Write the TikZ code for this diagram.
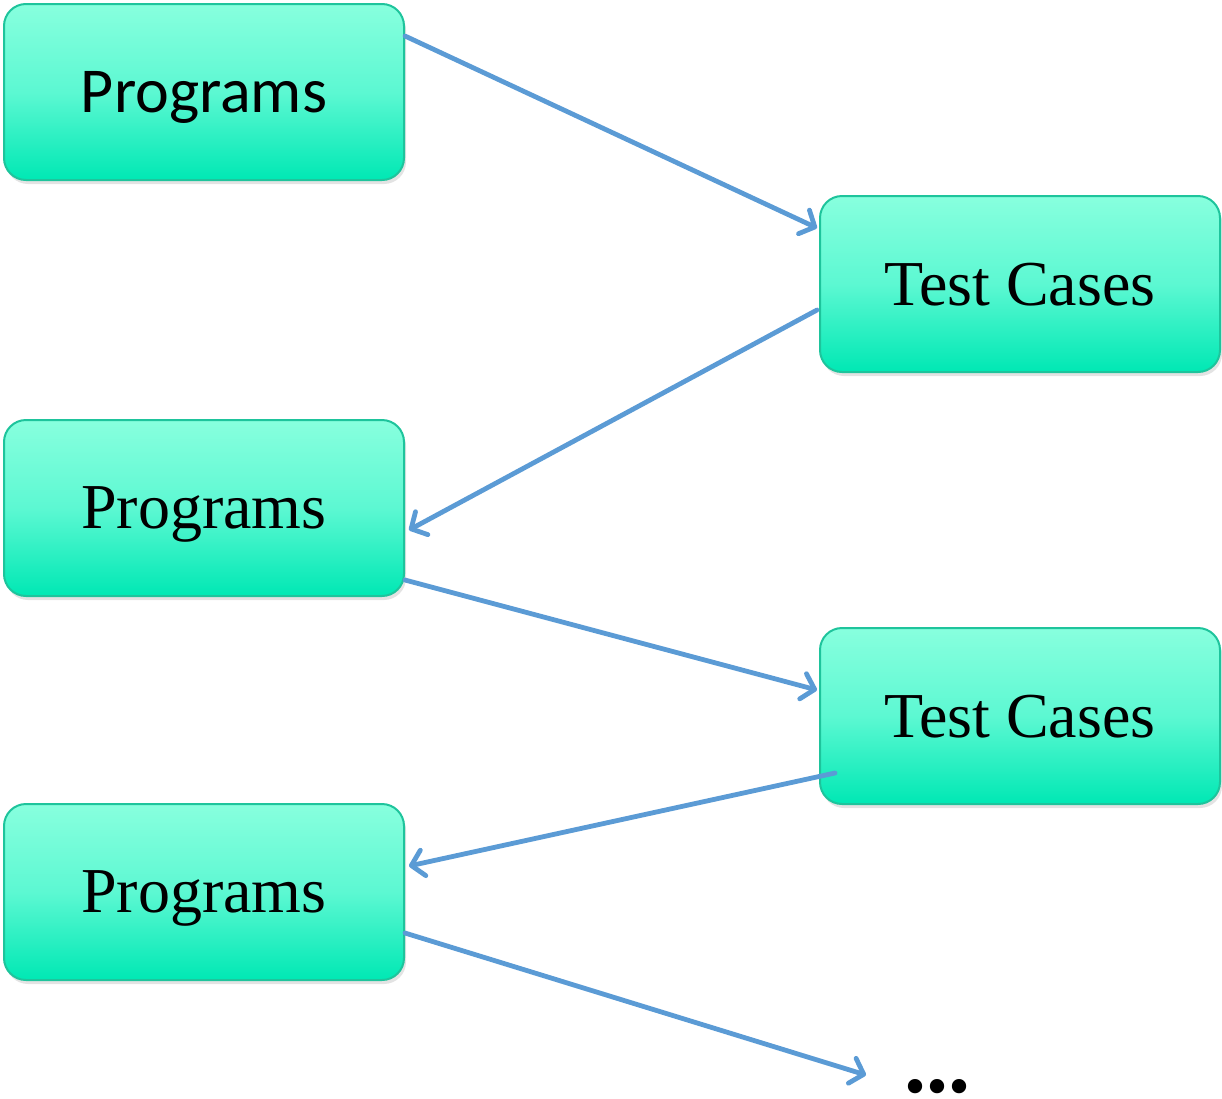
\documentclass[tikz,border=0pt]{standalone}
\usepackage{fontspec}
\setmainfont{Liberation Serif}
\newfontfamily\calibrilike{Carlito}
\usetikzlibrary{arrows.meta,shadows}
\definecolor{boxtop}{RGB}{136,255,222}
\definecolor{boxmid}{RGB}{92,248,210}
\definecolor{boxbot}{RGB}{0,232,180}
\definecolor{boxedge}{RGB}{30,196,156}
\definecolor{flow}{RGB}{91,155,213}
\begin{document}
\begin{tikzpicture}[x=1pt,y=-1pt,
  stagebox/.style={draw=boxedge, line width=2pt, rounded corners=22pt,
    top color=boxtop, bottom color=boxbot, middle color=boxmid,
    minimum width=400pt, minimum height=176pt, inner sep=0pt, text depth=0pt,
    drop shadow={opacity=0.22, shadow xshift=2pt, shadow yshift=-4pt},
    font=\fontsize{64}{70}\selectfont},
  flowarrow/.style={draw=flow, line width=4.8pt, line cap=round,
    -{Straight Barb[length=12pt,width=26pt,line width=4.8pt,round]}}
]
\useasboundingbox (0,0) rectangle (1222,1098);

\node[stagebox] (p1) at (204,92) {\calibrilike Programs};
\node[stagebox] (t1) at (1020,284) {Test Cases};
\node[stagebox] (p2) at (204,508) {Programs};
\node[stagebox] (t2) at (1020,716) {Test Cases};
\node[stagebox] (p3) at (204,892) {Programs};
\node[font=\fontsize{88}{88}\selectfont\bfseries, inner sep=0pt, text depth=0pt, anchor=base] (more) at (937,1092) {...};

% connector ends (yshift is measured upward on the page)
\coordinate (a1s) at ([yshift=56pt]p1.east);
\coordinate (a1e) at ([yshift=56pt,xshift=-2pt]t1.west);
\coordinate (a2s) at ([yshift=-26pt,xshift=-2pt]t1.west);
\coordinate (a2e) at ([yshift=-22pt,xshift=4pt]p2.east);
\coordinate (a3s) at ([yshift=-72pt]p2.east);
\coordinate (a3e) at ([yshift=26pt,xshift=-2pt]t2.west);
\coordinate (a4s) at ([yshift=-57pt,xshift=16pt]t2.west);
\coordinate (a4e) at ([yshift=26pt,xshift=4pt]p3.east);
\coordinate (a5s) at ([yshift=-41pt]p3.east);
\coordinate (a5e) at (866,1075);

\draw[flowarrow] (a1s) -- (a1e);
\draw[flowarrow] (a2s) -- (a2e);
\draw[flowarrow] (a3s) -- (a3e);
\draw[flowarrow] (a4s) -- (a4e);
\draw[flowarrow] (a5s) -- (a5e);
\end{tikzpicture}
\end{document}
